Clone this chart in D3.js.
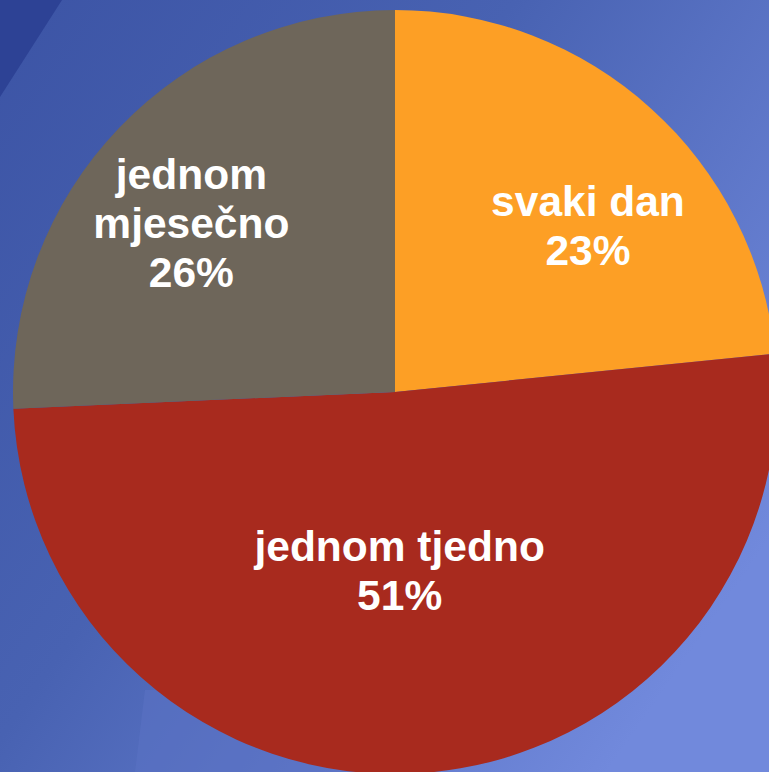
<!DOCTYPE html>
<html>
<head>
<meta charset="utf-8">
<script src="https://cdn.jsdelivr.net/npm/d3@7"></script>
<style>
  html, body { margin: 0; padding: 0; overflow: hidden; }
  body { width: 769px; height: 772px; }
</style>
</head>
<body>
<div id="chart"></div>
<script>
// data (slice sizes, labels show rounded %)
const categories = ["svaki dan", "jednom tjedno", "jednom mjesečno"];
const values = [23.4, 50.9, 25.7];
const colors = ["#fd9f25", "#a82a1e", "#6e665a"];

const width = 769, height = 772;
const cx = 395, cy = 392, radius = 382;

const svg = d3.select("#chart")
  .append("svg")
  .attr("width", width)
  .attr("height", height);

// background, blue slide gradient
const defs = svg.append("defs");
const grad = defs.append("linearGradient")
  .attr("id", "bg")
  .attr("x1", "0%").attr("y1", "0%")
  .attr("x2", "100%").attr("y2", "70%");
grad.append("stop").attr("offset", "0%").attr("stop-color", "#3c54a5");
grad.append("stop").attr("offset", "45%").attr("stop-color", "#4862b2");
grad.append("stop").attr("offset", "100%").attr("stop-color", "#7189dc");

svg.append("rect")
  .attr("width", width)
  .attr("height", height)
  .attr("fill", "url(#bg)");

// darker corner top-left
svg.append("path")
  .attr("d", "M0,0 L62,0 L0,97 Z")
  .attr("fill", "#2d4295");

// lighter patch bottom
svg.append("path")
  .attr("d", "M145,690 L135,772 L400,772 L400,690 Z")
  .attr("fill", "#5a72c3")
  .attr("opacity", 0.6);

const pie = d3.pie().sort(null).value(d => d.value);
const arcs = pie(categories.map((c, i) => ({ name: c, value: values[i], color: colors[i] })));

const arc = d3.arc().innerRadius(0).outerRadius(radius);
const labelArc = d3.arc().innerRadius(radius * 0.64).outerRadius(radius * 0.64);

const g = svg.append("g").attr("transform", `translate(${cx},${cy})`);

g.selectAll("path.slice")
  .data(arcs)
  .join("path")
  .attr("class", "slice")
  .attr("d", arc)
  .attr("fill", d => d.data.color);

// label nudges, like Excel's best-fit placement
const nudge = {
  "svaki dan": [29, 16],
  "jednom tjedno": [-13, -64],
  "jednom mjesečno": [-27, 1]
};
const labelLines = {
  "svaki dan": ["svaki dan"],
  "jednom tjedno": ["jednom tjedno"],
  "jednom mjesečno": ["jednom", "mjesečno"]
};

const lineH = 49;
const labels = g.selectAll("text.lbl")
  .data(arcs)
  .join("text")
  .attr("class", "lbl")
  .attr("text-anchor", "middle")
  .attr("fill", "#ffffff")
  .attr("font-family", "Liberation Sans, Arial, sans-serif")
  .attr("font-weight", "bold")
  .attr("font-size", "42.5px")
  .attr("transform", d => {
    const c = labelArc.centroid(d);
    const n = nudge[d.data.name];
    return `translate(${c[0] + n[0]},${c[1] + n[1]})`;
  });

labels.each(function(d) {
  const lines = labelLines[d.data.name].concat([Math.round(d.data.value) + "%"]);
  const t = d3.select(this);
  const y0 = -(lines.length - 1) * lineH / 2 + 14;
  lines.forEach((l, i) => {
    t.append("tspan")
      .attr("x", 0)
      .attr("y", y0 + i * lineH)
      .text(l);
  });
});
</script>
</body>
</html>
